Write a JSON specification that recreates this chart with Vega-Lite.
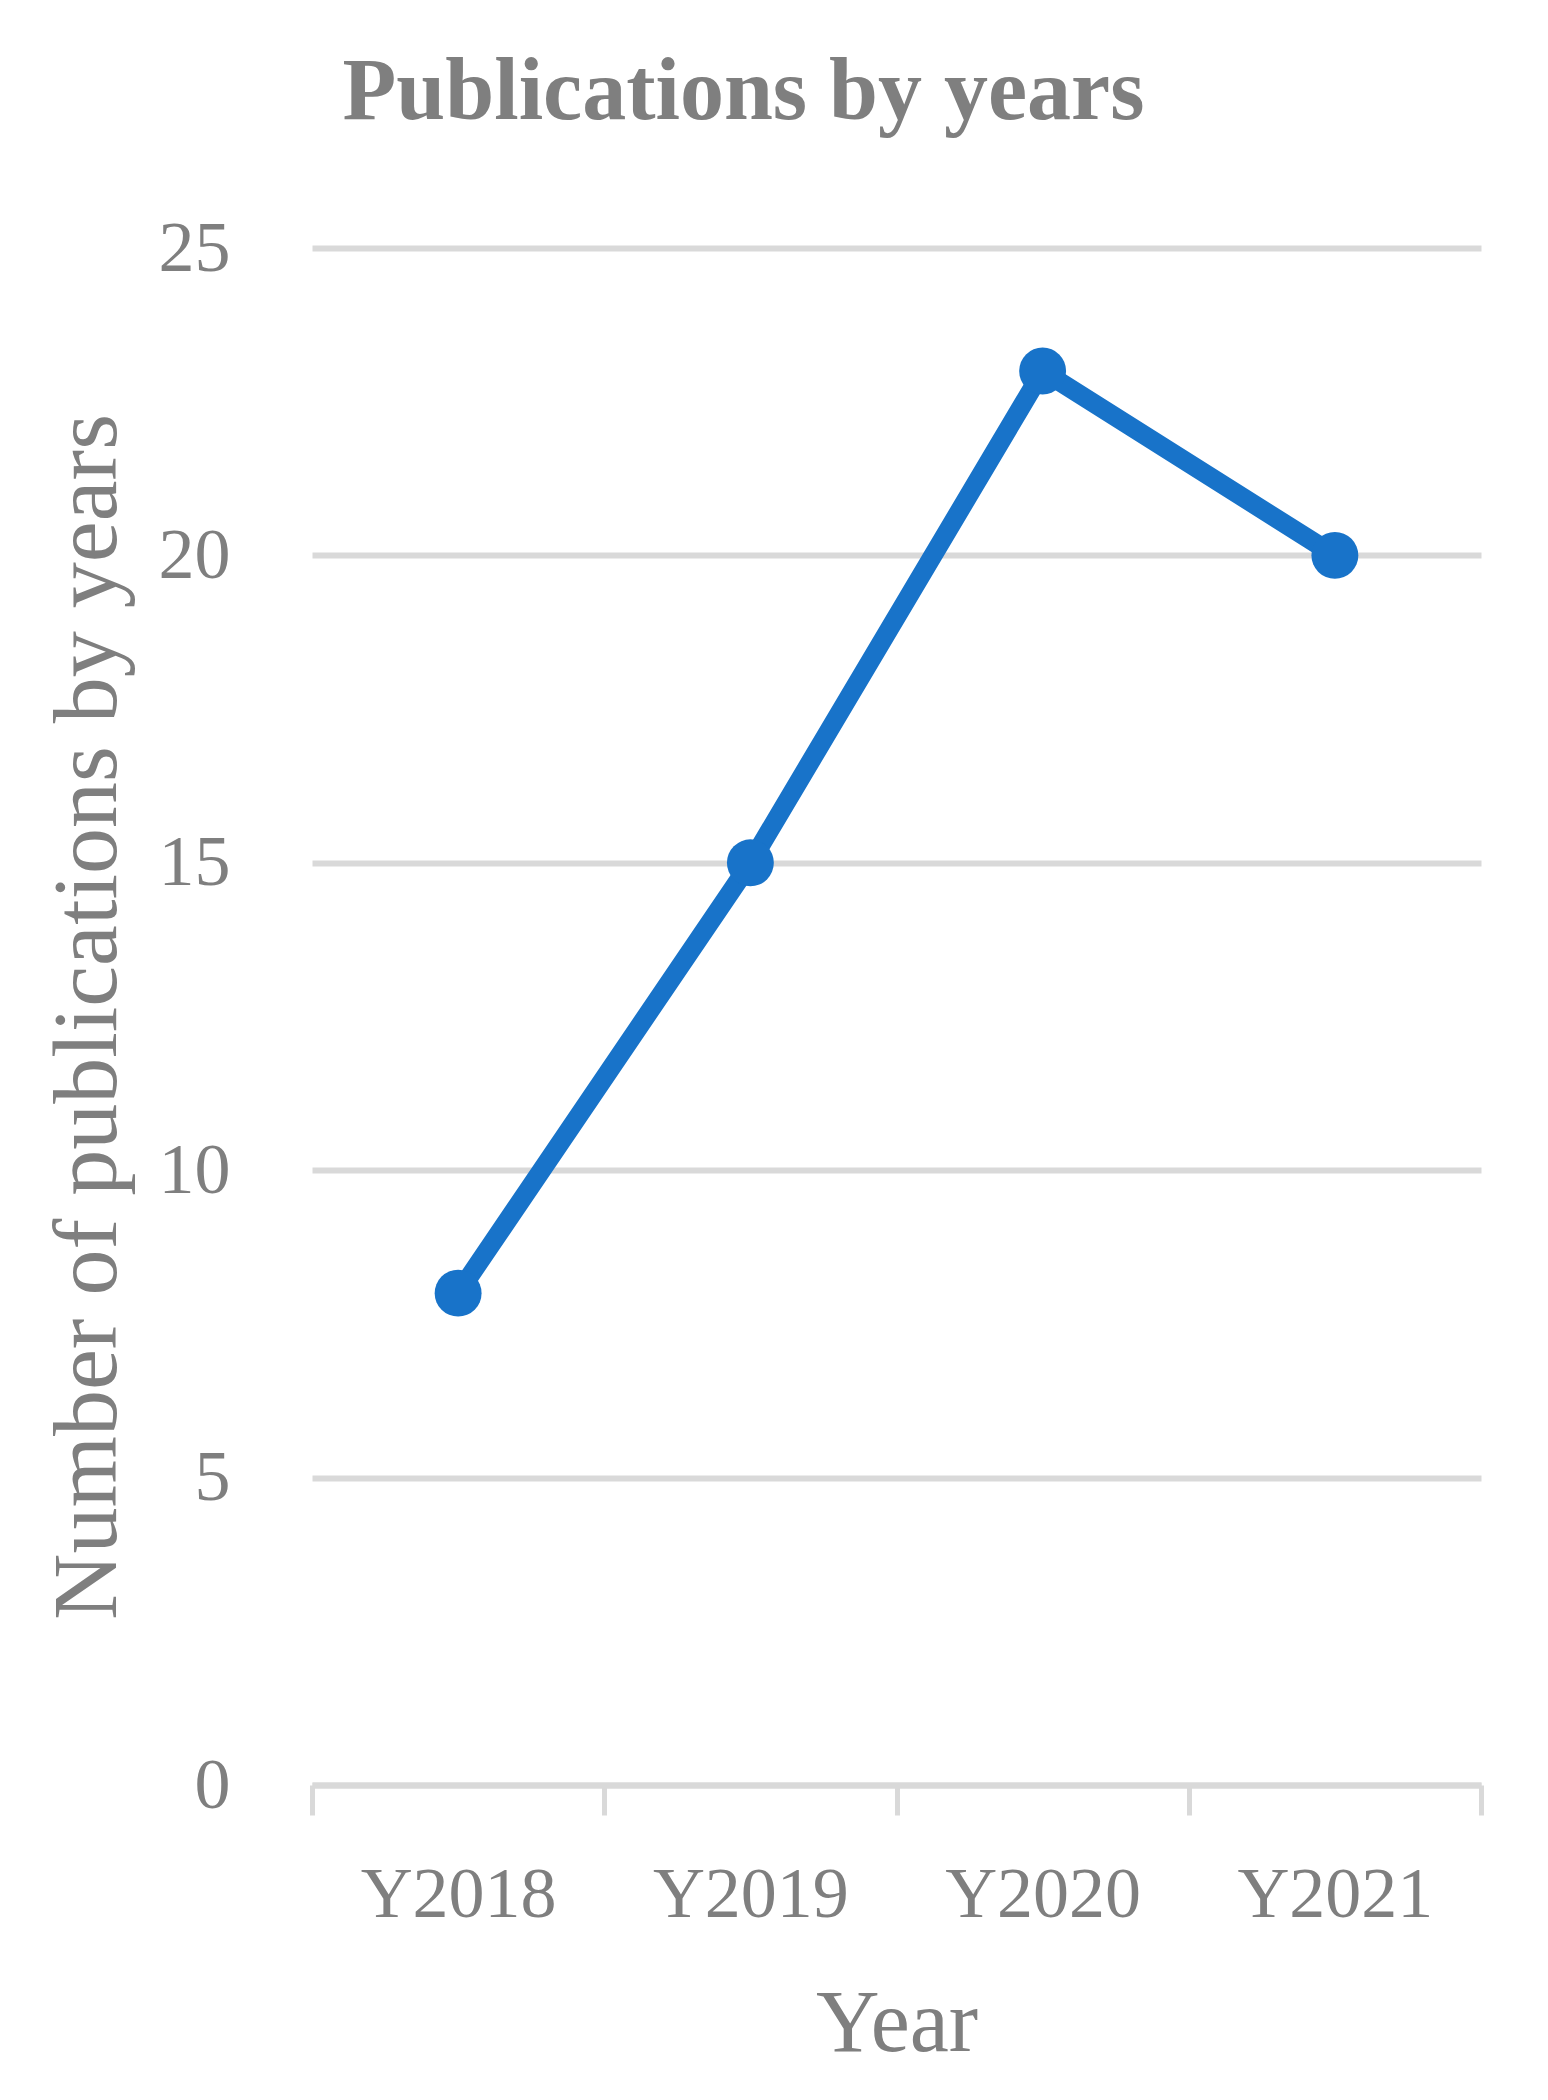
{
  "$schema": "https://vega.github.io/schema/vega-lite/v6.json",
  "width": 1169,
  "height": 1537,
  "autosize": {"type": "none"},
  "padding": {"left": 312, "top": 248, "right": 67, "bottom": 315},
  "background": "white",
  "title": {
    "text": "Publications by years",
    "font": "Liberation Serif",
    "fontSize": 88,
    "fontWeight": "bold",
    "color": "#7f7f7f",
    "anchor": "middle",
    "frame": "group",
    "dx": -153,
    "baseline": "alphabetic",
    "offset": 5
  },
  "data": {
    "values": [
      {"year": "Y2018", "count": 8},
      {"year": "Y2019", "count": 15},
      {"year": "Y2020", "count": 23},
      {"year": "Y2021", "count": 20}
    ]
  },
  "config": {
    "view": {"stroke": null},
    "axis": {
      "labelFont": "Liberation Serif",
      "titleFont": "Liberation Serif",
      "labelColor": "#7f7f7f",
      "titleColor": "#7f7f7f",
      "labelFontSize": 72,
      "labelLimit": 0,
      "titleLimit": 0,
      "titleFontWeight": "normal"
    }
  },
  "encoding": {
    "x": {
      "field": "year",
      "type": "nominal",
      "sort": null,
      "scale": {"type": "band", "paddingInner": 0, "paddingOuter": 0},
      "axis": {
        "title": "Year",
        "titleFontSize": 88,
        "titlePadding": 50,
        "labelAngle": 0,
        "labelPadding": 44,
        "domainColor": "#d9d9d9",
        "domainWidth": 6,
        "tickColor": "#d9d9d9",
        "tickWidth": 5,
        "tickSize": 30,
        "tickBand": "extent",
        "grid": false
      }
    },
    "y": {
      "field": "count",
      "type": "quantitative",
      "scale": {"domain": [0, 25], "nice": false},
      "axis": {
        "title": "Number of publications by years",
        "titleFontSize": 92,
        "titlePadding": 24,
        "values": [0, 5, 10, 15, 20, 25],
        "domain": false,
        "ticks": false,
        "labelPadding": 82,
        "grid": true,
        "gridColor": "#d9d9d9",
        "gridWidth": 6
      }
    }
  },
  "layer": [
    {"mark": {"type": "line", "color": "#1873C9", "strokeWidth": 19}},
    {"mark": {"type": "circle", "color": "#1873C9", "opacity": 1, "size": 2200}}
  ]
}
